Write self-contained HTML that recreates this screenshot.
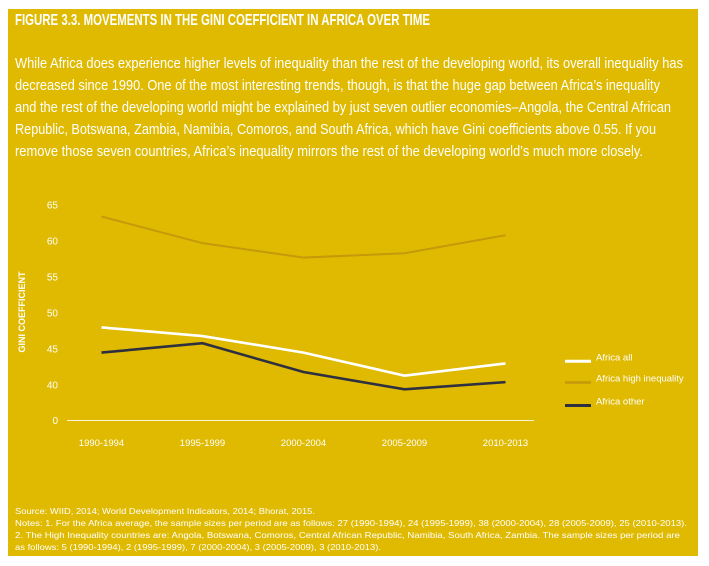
<!DOCTYPE html>
<html><head><meta charset="utf-8"><style>
html,body{margin:0;padding:0;background:#fff;}
svg{display:block;}
text{font-family:"Liberation Sans",sans-serif;fill:#fff;}
.nar{font-family:"Liberation Sans Narrow","Liberation Sans",sans-serif;}
</style></head><body>
<svg id="chart" width="709" height="566" viewBox="0 0 709 566">
<rect x="8" y="9" width="690" height="547" fill="#dfba00"/>
<text class="nar" x="15" y="25" font-size="16" font-weight="bold" textLength="415" lengthAdjust="spacingAndGlyphs">FIGURE 3.3. MOVEMENTS IN THE GINI COEFFICIENT IN AFRICA OVER TIME</text>
<g class="nar" font-size="15">
<text x="15" y="68" textLength="668" lengthAdjust="spacingAndGlyphs">While Africa does experience higher levels of inequality than the rest of the developing world, its overall inequality has</text>
<text x="15" y="90" textLength="645" lengthAdjust="spacingAndGlyphs">decreased since 1990. One of the most interesting trends, though, is that the huge gap between Africa’s inequality</text>
<text x="15" y="112" textLength="656" lengthAdjust="spacingAndGlyphs">and the rest of the developing world might be explained by just seven outlier economies–Angola, the Central African</text>
<text x="15" y="134" textLength="641" lengthAdjust="spacingAndGlyphs">Republic, Botswana, Zambia, Namibia, Comoros, and South Africa, which have Gini coefficients above 0.55. If you</text>
<text x="15" y="156" textLength="628" lengthAdjust="spacingAndGlyphs">remove those seven countries, Africa’s inequality mirrors the rest of the developing world’s much more closely.</text>
</g>
<text transform="translate(25,312) rotate(-90)" text-anchor="middle" font-size="9" font-weight="bold">GINI COEFFICIENT</text>
<line x1="67" y1="420.5" x2="534" y2="420.5" stroke="#fff" stroke-width="1" opacity="0.85"/>
<g id="ticks"></g>
<g id="series"></g>
<g id="legend"></g>
<g font-size="8.3">
<text x="15" y="514" textLength="300" lengthAdjust="spacingAndGlyphs">Source: WIID, 2014; World Development Indicators, 2014; Bhorat, 2015.</text>
<text x="15" y="526" textLength="672" lengthAdjust="spacingAndGlyphs">Notes: 1. For the Africa average, the sample sizes per period are as follows: 27 (1990-1994), 24 (1995-1999), 38 (2000-2004), 28 (2005-2009), 25 (2010-2013).</text>
<text x="15" y="538" textLength="665" lengthAdjust="spacingAndGlyphs">2. The High Inequality countries are: Angola, Botswana, Comoros, Central African Republic, Namibia, South Africa, Zambia. The sample sizes per period are</text>
<text x="15" y="550" textLength="366" lengthAdjust="spacingAndGlyphs">as follows: 5 (1990-1994), 2 (1995-1999), 7 (2000-2004), 3 (2005-2009), 3 (2010-2013).</text>
</g>
</svg>
<script>
const categories = ["1990-1994","1995-1999","2000-2004","2005-2009","2010-2013"];
const yTickValues = [0,40,45,50,55,60,65];
const seriesNames = ["Africa all","Africa high inequality","Africa other"];
const africaAll = [48.0,46.8,44.5,41.3,43.0];
const africaHigh = [63.4,59.7,57.7,58.3,60.8];
const africaOther = [44.5,45.8,41.8,39.4,40.4];
const NS="http://www.w3.org/2000/svg";
function x(i){return 101.5+101*i;}
function y(v){ if(v===0) return 420.7; return 385-(v-40)*7.2; }
const ticks=document.getElementById('ticks');
yTickValues.forEach(v=>{
  const t=document.createElementNS(NS,'text');
  t.setAttribute('x',58);t.setAttribute('y',y(v)+3.5);
  t.setAttribute('text-anchor','end');t.setAttribute('font-size','10');
  t.textContent=v;
  
  
  ticks.appendChild(t);
});
categories.forEach((c,i)=>{
  const t=document.createElementNS(NS,'text');
  t.setAttribute('x',x(i));t.setAttribute('y',446);
  t.setAttribute('text-anchor','middle');t.setAttribute('font-size','9.5');
  t.textContent=c;
  
  
  ticks.appendChild(t);
});
const styles=[["#ffffff",2.6,"line-africa-all",africaAll],["#c49a0a",2,"line-africa-high-inequality",africaHigh],["#2e3040",2.6,"line-africa-other",africaOther]];
const sg=document.getElementById('series');
styles.forEach(s=>{
  const p=document.createElementNS(NS,'polyline');
  p.setAttribute('points',s[3].map((v,i)=>x(i)+','+y(v)).join(' '));
  p.setAttribute('fill','none');p.setAttribute('stroke',s[0]);p.setAttribute('stroke-width',s[1]);
  
  
  sg.appendChild(p);
});
const lg=document.getElementById('legend');
const ly=[361.3,382.5,405.5];
seriesNames.forEach((n,i)=>{
  const l=document.createElementNS(NS,'line');
  l.setAttribute('x1',565);l.setAttribute('x2',591);l.setAttribute('y1',ly[i]);l.setAttribute('y2',ly[i]);
  l.setAttribute('stroke',styles[i][0]);l.setAttribute('stroke-width',styles[i][1]+0.4);
  
  
  lg.appendChild(l);
  const t=document.createElementNS(NS,'text');
  t.setAttribute('x',596);t.setAttribute('y',ly[i]-1);t.setAttribute('font-size','9.5');
  t.textContent=n;
  
  
  lg.appendChild(t);
});
</script>
</body></html>
